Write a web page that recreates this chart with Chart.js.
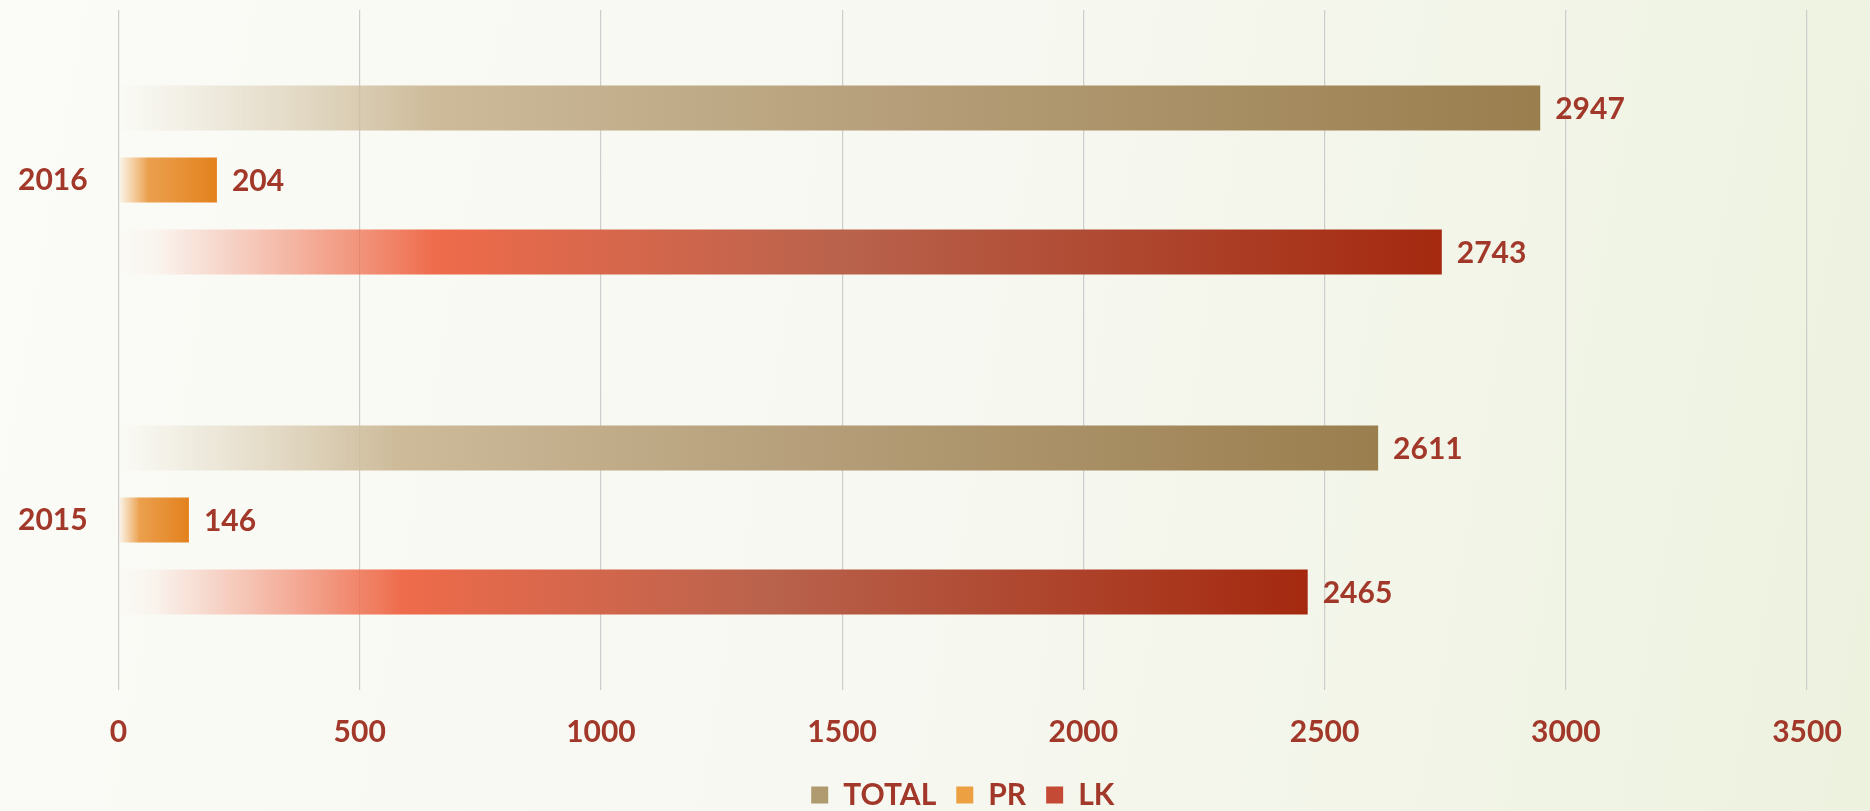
<!DOCTYPE html>
<html>
<head>
<meta charset="utf-8">
<script src="https://cdn.jsdelivr.net/npm/chart.js@4.4.1/dist/chart.umd.min.js"></script>
<style>
  html, body { margin: 0; padding: 0; width: 1870px; height: 811px; overflow: hidden; }
  body { background: linear-gradient(100deg, #fbfbf7 0%, #f7f8f1 50%, #edf2df 100%); }
  canvas { display: block; }
</style>
</head>
<body>
<canvas id="c" width="1870" height="811"></canvas>
<script>
// ---- data ----
const years = ['2016', '2015'];
const seriesNames = ['TOTAL', 'PR', 'LK'];
const totalValues = [2947, 2611];
const prValues = [204, 146];
const lkValues = [2743, 2465];
const xTickMin = 0;
const xTickMax = 3500;
const xTickStep = 500;

// ---- styles ----
const textColor = '#a2382a';
const fontFamily = 'Lato, "Open Sans", sans-serif';
const legendColors = ['#b09a70', '#eca042', '#c44a35'];
const gradientStops = [
  [[0, 'rgba(215,200,170,0)'], [0.22, '#cdbb9a'], [0.55, '#b59e79'], [1, '#9a7e4e']],
  [[0, 'rgba(240,170,90,0.05)'], [0.3, '#eba04e'], [1, '#e3811d']],
  [[0, 'rgba(240,120,90,0)'], [0.03, 'rgba(240,120,90,0.05)'], [0.24, '#ee6b4b'], [0.55, '#b9624c'], [1, '#a4290f']]
];

function gradientFor(stops) {
  return function (ctx) {
    const chart = ctx.chart;
    const last = stops[stops.length - 1][1];
    if (!chart.chartArea || ctx.type !== 'data' || !chart.scales.x) return last;
    const xs = chart.scales.x;
    const x0 = xs.getPixelForValue(0);
    const x1 = xs.getPixelForValue(ctx.raw);
    if (!isFinite(x0) || !isFinite(x1) || x1 === x0) return last;
    const g = chart.ctx.createLinearGradient(x0, 0, x1, 0);
    stops.forEach(([o, c]) => g.addColorStop(o, c));
    return g;
  };
}

const valueLabels = {
  id: 'valueLabels',
  afterDatasetsDraw(chart) {
    const ctx = chart.ctx;
    ctx.save();
    ctx.font = 'bold 30px ' + fontFamily;
    ctx.fillStyle = textColor;
    ctx.textAlign = 'left';
    ctx.textBaseline = 'middle';
    chart.data.datasets.forEach((ds, di) => {
      const meta = chart.getDatasetMeta(di);
      meta.data.forEach((el, i) => {
        ctx.fillText(String(ds.data[i]), el.x + 15, el.y + 1);
      });
    });
    ctx.restore();
  }
};

const seriesData = [totalValues, prValues, lkValues];

new Chart(document.getElementById('c'), {
  type: 'bar',
  data: {
    labels: years,
    datasets: seriesNames.map((name, i) => ({
      label: name,
      data: seriesData[i],
      backgroundColor: gradientFor(gradientStops[i]),
      borderWidth: 0,
      categoryPercentage: 0.635,
      barPercentage: 0.625
    }))
  },
  options: {
    indexAxis: 'y',
    responsive: false,
    animation: false,
    layout: { padding: { left: 18, right: 63, top: 10, bottom: -9 } },
    scales: {
      x: {
        min: xTickMin,
        max: xTickMax,
        ticks: {
          stepSize: xTickStep,
          color: textColor,
          font: { family: fontFamily, size: 30, weight: 'bold' },
          padding: 24,
          callback: (v) => String(v)
        },
        grid: { color: '#cdcdcd', lineWidth: 1.2, drawTicks: false },
        border: { display: false },
        afterFit(scale) { scale.height = 70; }
      },
      y: {
        ticks: {
          color: textColor,
          font: { family: fontFamily, size: 30, weight: 'bold', lineHeight: 0.5 },
          padding: 0,
          crossAlign: 'far'
        },
        grid: { display: false, drawTicks: false },
        border: { display: false },
        afterFit(scale) { scale.width = 100.5; }
      }
    },
    plugins: {
      legend: {
        position: 'bottom',
        fullSize: false,
        labels: {
          color: textColor,
          font: { family: fontFamily, size: 30, weight: 'bold' },
          boxWidth: 17,
          boxHeight: 17,
          padding: 20,
          generateLabels(chart) {
            return chart.data.datasets.map((ds, i) => ({
              text: ds.label,
              fillStyle: legendColors[i],
              strokeStyle: legendColors[i],
              lineWidth: 0,
              fontColor: textColor,
              hidden: false,
              datasetIndex: i
            }));
          }
        }
      },
      tooltip: { enabled: false }
    }
  },
  plugins: [valueLabels]
});
</script>
</body>
</html>
